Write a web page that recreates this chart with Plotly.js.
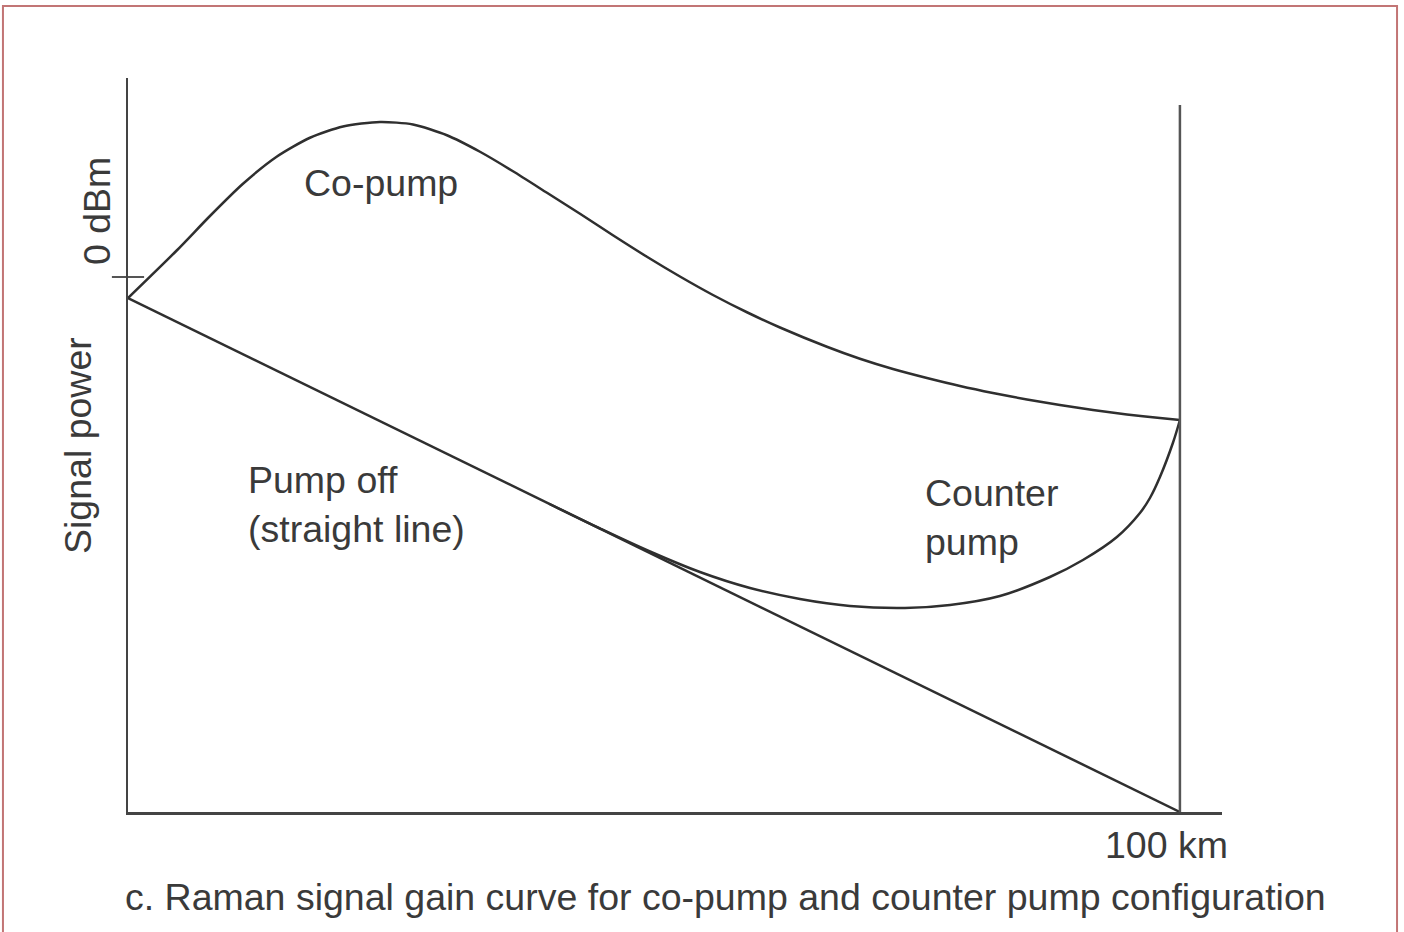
<!DOCTYPE html>
<html>
<head>
<meta charset="utf-8">
<script src="https://cdn.plot.ly/plotly-3.0.1.min.js"></script>
<style>
  html, body { margin: 0; padding: 0; background: #ffffff; }
  #chart { width: 1404px; height: 932px; }
</style>
</head>
<body>
<div id="chart"></div>
<script>
// Distance along fibre (km) and signal power (relative dB, 0 = 0 dBm)
var pumpOffX = [0, 100];
var pumpOffY = [-0.84, -21.4];

var coPumpX = [0, 4.63, 7.79, 10.93, 14.13, 17.30, 20.44, 23.95, 27.09, 30.32, 33.46, 36.60, 39.83, 42.97, 46.10, 49.33, 52.47, 55.61, 58.84, 61.98, 66.44, 69.58, 72.72, 75.95, 79.09, 82.22, 85.46, 88.59, 91.73, 94.96, 98.10, 100];
var coPumpY = [-0.84, 1.06, 2.44, 3.73, 4.81, 5.57, 6.02, 6.20, 6.10, 5.67, 5.01, 4.23, 3.37, 2.53, 1.67, 0.81, 0.02, -0.72, -1.41, -2.02, -2.79, -3.27, -3.68, -4.04, -4.36, -4.64, -4.90, -5.12, -5.32, -5.50, -5.64, -5.72];

var counterX = [40.02, 44.87, 49.62, 54.37, 59.13, 63.88, 68.63, 73.86, 78.14, 82.89, 87.64, 90.78, 94.01, 96.20, 97.15, 98.10, 99.33, 100];
var counterY = [-9.07, -10.06, -10.98, -11.80, -12.44, -12.88, -13.16, -13.24, -13.12, -12.76, -12.00, -11.32, -10.40, -9.44, -8.84, -8.00, -6.64, -5.72];

var endMarkerX = [100, 100];
var endMarkerY = [-21.4, 6.88];

var zeroTickX = [0];
var zeroTickY = [0];

var labels = {
  coPump: "Co-pump",
  pumpOff: "Pump off<br>(straight line)",
  counter: "Counter<br>pump",
  yTick: "0 dBm",
  yTitle: "Signal power",
  xTick: "100 km",
  caption: "c. Raman signal gain curve for co-pump and counter pump configuration"
};

var lineCol = "#2f2f2f";
var txtCol = "#3a3a3a";
var fontFam = "Liberation Sans, Arial, Helvetica, sans-serif";

var traces = [
  { x: pumpOffX, y: pumpOffY, mode: "lines", line: { color: lineCol, width: 2.5 }, hoverinfo: "skip" },
  { x: coPumpX, y: coPumpY, mode: "lines", line: { color: lineCol, width: 2.5, shape: "spline", smoothing: 0.7 }, hoverinfo: "skip" },
  { x: counterX, y: counterY, mode: "lines", line: { color: lineCol, width: 2.5, shape: "spline", smoothing: 1 }, hoverinfo: "skip" },
  { x: endMarkerX, y: endMarkerY, mode: "lines", line: { color: "#555555", width: 2.5 }, hoverinfo: "skip" },
  { x: zeroTickX, y: zeroTickY, mode: "markers", cliponaxis: false,
    marker: { symbol: "line-ew", size: 23, line: { color: "#555555", width: 2 } }, hoverinfo: "skip" }
];

function ann(text, x, y, xref, yref, xanchor, extra) {
  var a = { text: text, x: x, y: y, xref: xref, yref: yref, xanchor: xanchor, yanchor: "middle",
    showarrow: false, align: "left", font: { family: fontFam, size: 37.5, color: txtCol } };
  if (extra) { for (var k in extra) a[k] = extra[k]; }
  return a;
}

var layout = {
  width: 1404, height: 932,
  margin: { l: 128, r: 182, t: 78, b: 120 },
  paper_bgcolor: "#ffffff", plot_bgcolor: "#ffffff",
  showlegend: false,
  xaxis: { range: [0, 104], showline: true, linecolor: "#444444", linewidth: 2.5, showgrid: false,
           zeroline: false, showticklabels: false, ticks: "", fixedrange: true },
  yaxis: { range: [-21.4, 7.96], showline: true, linecolor: "#444444", linewidth: 2.5, showgrid: false,
           zeroline: false, showticklabels: false, ticks: "", fixedrange: true },
  annotations: [
    ann(labels.coPump, 16.54, 3.76, "x", "y", "left"),
    ann(labels.pumpOff, 11.22, -9.08, "x", "y", "left"),
    ann(labels.counter, 75.57, -9.6, "x", "y", "left"),
    ann(labels.yTick, -0.0283, 0.8188, "paper", "paper", "center", { textangle: -90 }),
    ann(labels.yTitle, -0.0457, 0.4986, "paper", "paper", "center", { textangle: -90 }),
    ann(labels.xTick, 0.9497, -0.045, "paper", "paper", "center"),
    ann(labels.caption, 0.5466, -0.1158, "paper", "paper", "center")
  ],
  shapes: [
    { type: "rect", xref: "paper", yref: "paper", x0: -0.1143, x1: 1.16, y0: -0.18, y1: 1.098,
      line: { color: "#c27575", width: 2 }, fillcolor: "rgba(0,0,0,0)", layer: "below" }
  ]
};

Plotly.newPlot("chart", traces, layout, { staticPlot: true, displayModeBar: false });
</script>
</body>
</html>
